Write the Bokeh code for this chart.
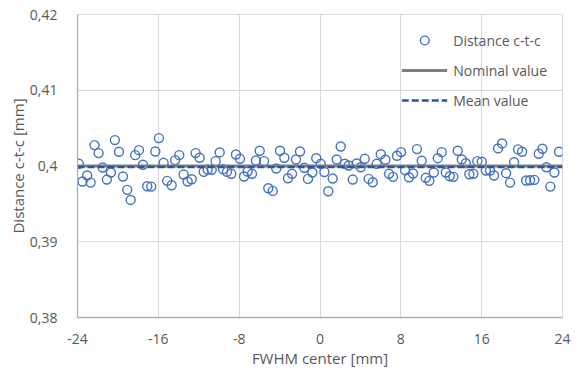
from bokeh.plotting import figure
from bokeh.models import FixedTicker, Range1d, Legend, LegendItem
from bokeh.embed import file_html
from bokeh.resources import INLINE
import numpy as np

fwhm_center = [
    -23.86, -23.50, -23.04, -22.70, -22.31, -21.91, -21.51, -21.09, -20.69, -20.30,
    -19.90, -19.50, -19.08, -18.74, -18.29, -17.92, -17.52, -17.10, -16.70, -16.30,
    -15.94, -15.48, -15.12, -14.68, -14.33, -13.93, -13.50, -13.10, -12.70, -12.31,
    -11.91, -11.51, -11.12, -10.72, -10.33, -9.93, -9.60, -9.21, -8.78, -8.32,
    -7.92, -7.52, -7.16, -6.73, -6.34, -5.97, -5.54, -5.12, -4.68, -4.33,
    -3.96, -3.53, -3.17, -2.77, -2.38, -1.98, -1.55, -1.19, -0.76, -0.37,
    0.07, 0.43, 0.82, 1.26, 1.65, 2.05, 2.45, 2.84, 3.24, 3.63,
    4.03, 4.43, 4.82, 5.22, 5.61, 6.01, 6.47, 6.83, 7.23, 7.62,
    8.02, 8.42, 8.81, 9.21, 9.60, 10.07, 10.47, 10.82, 11.26, 11.65,
    12.05, 12.45, 12.84, 13.20, 13.63, 14.03, 14.43, 14.78, 15.18, 15.57,
    16.01, 16.41, 16.83, 17.23, 17.62, 18.02, 18.42, 18.81, 19.21, 19.60,
    20.00, 20.40, 20.79, 21.22, 21.65, 22.01, 22.41, 22.80, 23.20, 23.66,
]
distance_ctc = [
    0.40029, 0.39795, 0.39874, 0.39781, 0.40276, 0.40170, 0.39980, 0.39821, 0.39914, 0.40342,
    0.40188, 0.39861, 0.39685, 0.39552, 0.40143, 0.40209, 0.40016, 0.39732, 0.39728, 0.40192,
    0.40368, 0.40042, 0.39804, 0.39746, 0.40077, 0.40143, 0.39887, 0.39795, 0.39825, 0.40170,
    0.40109, 0.39923, 0.39954, 0.39950, 0.40064, 0.40179, 0.39958, 0.39923, 0.39897, 0.40152,
    0.40095, 0.39861, 0.39927, 0.39897, 0.40073, 0.40201, 0.40064, 0.39706, 0.39671, 0.39967,
    0.40201, 0.40109, 0.39838, 0.39897, 0.40086, 0.40192, 0.39976, 0.39830, 0.39914, 0.40103,
    0.40029, 0.39921, 0.39666, 0.39834, 0.40086, 0.40258, 0.40029, 0.40007, 0.39821, 0.40033,
    0.39984, 0.40095, 0.39830, 0.39785, 0.40029, 0.40156, 0.40082, 0.39897, 0.39857, 0.40135,
    0.40183, 0.39944, 0.39852, 0.39901, 0.40223, 0.40069, 0.39844, 0.39804, 0.39914, 0.40103,
    0.40183, 0.39914, 0.39865, 0.39857, 0.40201, 0.40086, 0.40037, 0.39891, 0.39897, 0.40064,
    0.40056, 0.39940, 0.39940, 0.39874, 0.40232, 0.40298, 0.39905, 0.39781, 0.40050, 0.40219,
    0.40188, 0.39808, 0.39812, 0.39817, 0.40162, 0.40228, 0.39984, 0.39728, 0.39914, 0.40188,
]
nominal_value = 0.4
mean_value = float(np.mean(distance_ctc))

x_limits = [-24, 24]
y_limits = [0.38, 0.42]
x_ticks = [-24, -16, -8, 0, 8, 16, 24]
x_tick_labels = ["-24", "-16", "-8", "0", "8", "16", "24"]
y_ticks = [0.38, 0.39, 0.40, 0.41, 0.42]
y_tick_labels = ["0,38", "0,39", "0,4", "0,41", "0,42"]

FONT = "Open Sans"
TXT = "#595959"

p = figure(width=582, height=379, output_backend="svg", toolbar_location=None,
           x_range=Range1d(*x_limits), y_range=Range1d(*y_limits),
           min_border_left=77, min_border_right=20, min_border_top=14, min_border_bottom=62)
p.outline_line_color = "#d9d9d9"
p.background_fill_color = "white"

p.xaxis.ticker = FixedTicker(ticks=x_ticks)
p.yaxis.ticker = FixedTicker(ticks=y_ticks)
p.xaxis.major_label_overrides = {t: l for t, l in zip(x_ticks, x_tick_labels)}
p.yaxis.major_label_overrides = {t: l for t, l in zip(y_ticks, y_tick_labels)}

for ax in (p.xaxis, p.yaxis):
    ax.major_tick_line_color = None
    ax.minor_tick_line_color = None
    ax.axis_line_color = "#b0b0b0"
    ax.axis_line_width = 1.3
    ax.major_label_text_font = FONT
    ax.major_label_text_font_size = "14px"
    ax.major_label_text_color = TXT
    ax.axis_label_text_font = FONT
    ax.axis_label_text_font_size = "15px"
    ax.axis_label_text_font_style = "normal"
    ax.axis_label_text_color = TXT

p.xaxis.axis_label = "FWHM center [mm]"
p.yaxis.axis_label = "Distance c-t-c [mm]"
p.xaxis.major_label_standoff = 10
p.xaxis.axis_label_standoff = 1
p.yaxis.major_label_standoff = 14
p.yaxis.axis_label_standoff = -1

p.grid.grid_line_color = "#d9d9d9"
p.grid.grid_line_width = 1

pts = p.scatter(fwhm_center, distance_ctc, marker="circle", size=9, fill_color=None,
                line_color="#4472C4", line_width=1.4)
nom = p.line(x_limits, [nominal_value] * 2, line_color="#808080", line_width=3)
mean = p.line(x_limits, [mean_value] * 2, line_color="#2F5597", line_width=2.5,
              line_dash="7 3")

legend = Legend(items=[LegendItem(label="Distance c-t-c", renderers=[pts]),
                       LegendItem(label="Nominal value", renderers=[nom]),
                       LegendItem(label="Mean value", renderers=[mean])],
                location="top_right")
legend.background_fill_alpha = 0
legend.border_line_color = None
legend.label_text_font = FONT
legend.label_text_font_size = "14px"
legend.label_text_color = TXT
legend.glyph_width = 46
legend.glyph_height = 22
legend.spacing = 8
legend.label_standoff = 6
legend.margin = 15
legend.padding = 10
p.add_layout(legend)

open("out.html", "w").write(file_html(p, INLINE))
